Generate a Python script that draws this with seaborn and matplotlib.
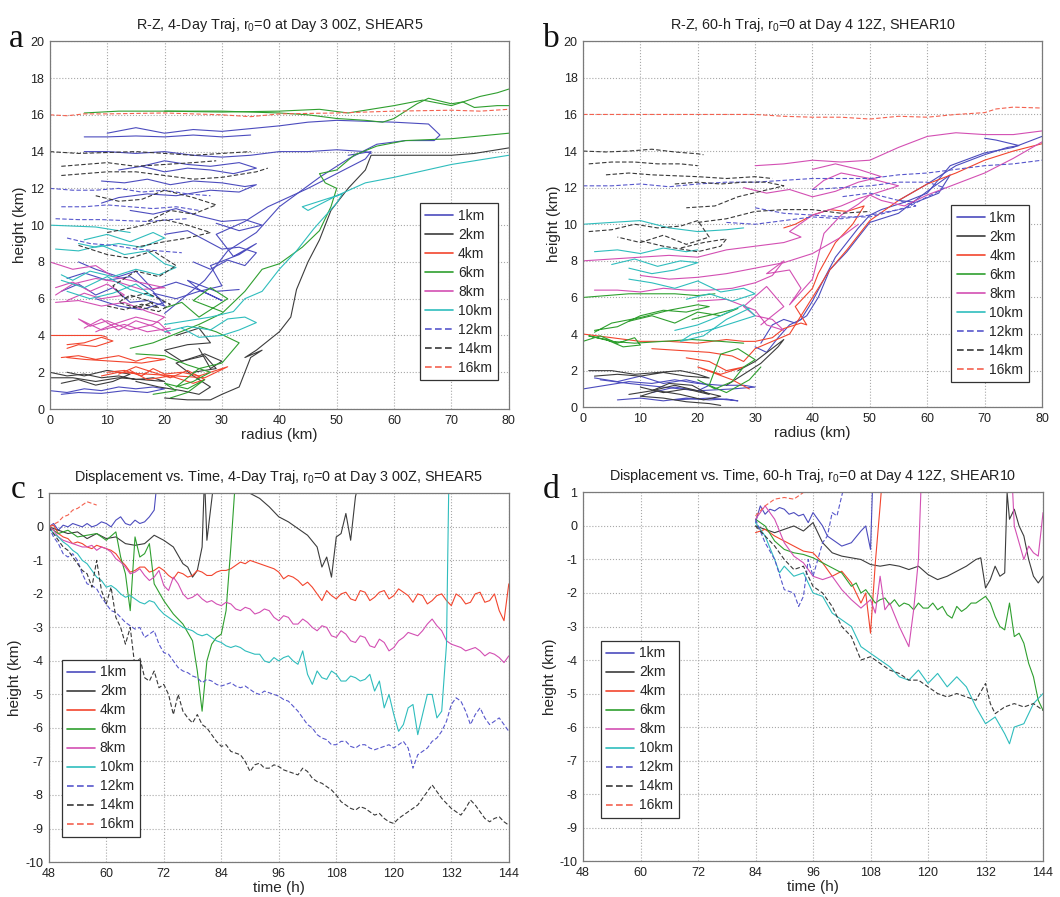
import numpy as np
import matplotlib
matplotlib.use("Agg")
import matplotlib.pyplot as plt
import seaborn as sns
import pandas as pd

# ---------------- global style ----------------
sns.set_theme(style="whitegrid")
sns.set_style("whitegrid", {
    "grid.linestyle": ":", "grid.color": "#b0b0b0",
    "axes.edgecolor": "#707070", "axes.linewidth": 0.8,
})
plt.rcParams['font.family'] = ['Liberation Sans', 'DejaVu Sans']
plt.rcParams['mathtext.fontset'] = 'custom'
plt.rcParams['mathtext.rm'] = 'Liberation Sans'
plt.rcParams['mathtext.it'] = 'Liberation Sans'
plt.rcParams['axes.unicode_minus'] = False

levels = ['1km', '2km', '4km', '6km', '8km', '10km', '12km', '14km', '16km']
colors = {'1km': '#4c4cbe', '2km': '#3c3c3c', '4km': '#f2452e', '6km': '#2f9f2f',
          '8km': '#d34fb3', '10km': '#2fbdbd', '12km': '#5757cc', '14km': '#383838',
          '16km': '#f4614f'}
dash_map = {k: '' for k in levels[:6]}
dash_map.update({'12km': (4, 2), '14km': (4, 2), '16km': (4, 2)})

# ---------------- panel a : R-Z, SHEAR5 (radius, height) ----------------
a_1km = [
    ([0, 3, 6, 9, 12, 15, 18, 20, 17, 13, 9, 5, 2], [1.0, 0.9, 1.1, 1.0, 1.2, 1.1, 1.2, 1.1, 0.9, 1.0, 0.85, 0.9, 0.8]),
    ([8, 12, 16, 20, 18, 22, 26, 30, 28, 33, 36, 32, 29, 34, 38, 45, 50, 55, 56, 52], [6.0, 5.6, 5.4, 5.8, 6.3, 6.0, 6.4, 6.7, 7.8, 8.4, 9.0, 8.3, 9.5, 10.2, 11.0, 12.0, 12.8, 13.6, 14.0, 13.8]),
    ([20, 27, 31, 36, 40, 47, 52, 57, 62, 67, 68, 66, 60, 50, 45, 40, 30, 25, 20, 15, 10], [5.2, 7.0, 8.6, 9.6, 11.0, 12.6, 13.6, 14.4, 14.6, 14.6, 14.9, 15.5, 15.6, 15.7, 15.6, 15.4, 15.1, 15.2, 15.0, 15.3, 15.0]),
    ([6, 10, 15, 20, 25, 30, 35, 40, 45, 50, 55, 56], [14.0, 14.0, 13.9, 14.0, 13.8, 13.7, 13.8, 14.0, 14.0, 14.1, 14.0, 13.9]),
    ([6, 10, 15, 20, 25, 30, 35], [14.8, 14.8, 14.85, 14.8, 14.9, 14.8, 14.9]),
    ([9, 13, 17, 21, 25, 30, 34, 36, 33, 28, 22, 17, 12, 9], [12.4, 12.3, 12.5, 12.2, 12.4, 12.3, 12.1, 12.2, 11.8, 11.9, 11.6, 11.7, 11.5, 11.2]),
    ([2, 5, 8, 11, 14, 17, 20, 18, 14, 10, 6, 3], [6.4, 6.8, 6.2, 6.6, 5.8, 5.9, 5.6, 6.4, 7.2, 7.0, 7.4, 7.1]),
    ([5, 8, 12, 15, 18, 22, 25, 28, 30, 26, 24, 29, 33], [8.0, 7.6, 7.2, 7.5, 6.5, 6.9, 6.6, 6.2, 5.9, 6.5, 7.0, 6.4, 6.5]),
    ([20, 24, 27, 30, 33, 36, 34, 31, 28, 25], [9.5, 9.7, 9.2, 8.7, 8.8, 8.5, 7.8, 8.1, 7.6, 8.0]),
    ([12, 16, 20, 24, 28, 32, 36, 33, 28, 24, 20, 16], [13.0, 13.2, 12.9, 13.1, 13.0, 12.8, 13.1, 13.4, 13.2, 13.3, 13.5, 13.2]),
    ([14, 18, 22, 26, 30, 34, 37, 33, 29], [10.8, 10.6, 10.9, 10.5, 10.2, 10.3, 10.0, 9.7, 10.1]),
]
a_2km = [
    ([0, 3, 6, 9, 12, 15, 18, 20, 16, 12, 8, 4, 0], [2.0, 1.8, 1.9, 1.7, 1.8, 1.6, 1.7, 1.5, 1.6, 1.7, 1.5, 1.7, 1.7]),
    ([15, 19, 23, 26, 28, 25, 22, 27, 30, 28, 26], [1.5, 1.2, 1.0, 0.8, 1.2, 1.8, 2.5, 3.0, 2.6, 2.2, 3.3]),
    ([20, 24, 28, 30, 33, 35, 37, 34, 36, 40, 42, 43, 45, 47, 49, 52, 55, 56, 60, 70, 74, 80], [0.6, 0.5, 0.5, 0.8, 1.2, 2.8, 3.2, 2.8, 3.2, 4.2, 5.0, 6.5, 8.0, 9.2, 10.8, 12.0, 13.0, 13.8, 13.8, 13.8, 13.9, 14.2]),
    ([22, 26, 28, 24, 20, 23, 27, 29, 25], [4.0, 4.4, 3.6, 3.5, 3.2, 2.6, 2.9, 2.2, 2.0]),
    ([2, 5, 8, 11, 14, 10, 6, 3], [1.4, 1.6, 1.3, 1.5, 1.9, 2.1, 1.8, 2.0]),
]
a_4km = [
    ([0, 5, 9, 10], [4.0, 4.0, 4.0, 3.9]),
    ([3, 6, 9, 11, 8, 5, 3], [3.5, 3.6, 3.9, 3.7, 3.4, 3.5, 3.3]),
    ([2, 5, 8, 12, 15, 17, 20, 16, 11, 6, 3], [2.8, 2.9, 2.7, 2.9, 2.6, 2.8, 2.7, 2.5, 2.6, 2.7, 2.8]),
    ([10, 13, 16, 18, 20, 23, 26, 28, 31, 27, 22, 17, 12, 9], [2.0, 2.1, 1.8, 2.2, 1.9, 2.0, 1.8, 2.0, 2.3, 1.7, 1.8, 1.9, 2.0, 1.8]),
    ([12, 15, 18, 21, 24, 27, 25, 21, 17, 14], [1.9, 2.3, 2.0, 1.7, 2.1, 1.6, 1.4, 1.8, 1.6, 2.1]),
]
a_6km = [
    ([6, 12, 20, 30, 40, 45, 50, 55, 58, 60, 64, 66, 70, 72, 74, 78, 80], [16.1, 16.2, 16.2, 16.2, 16.1, 16.0, 15.8, 15.7, 15.6, 15.8, 16.6, 16.9, 16.6, 16.7, 16.4, 16.5, 16.5]),
    ([20, 30, 40, 47, 52, 56, 60, 65, 70, 75, 78, 80], [16.2, 16.15, 16.2, 16.3, 16.1, 16.3, 16.5, 16.8, 16.5, 17.0, 17.2, 17.4]),
    ([14, 18, 22, 26, 30, 32, 34, 37, 40, 44, 47, 49, 50, 48, 47, 50, 53, 57, 62, 70, 80], [3.3, 3.6, 4.1, 4.6, 5.2, 5.8, 6.4, 7.6, 7.9, 8.8, 9.7, 11.0, 12.0, 12.3, 12.8, 13.0, 13.8, 14.3, 14.6, 14.7, 15.0]),
    ([15, 20, 24, 28, 25, 22, 26, 30, 33, 29, 26], [3.0, 2.9, 2.4, 2.0, 1.5, 1.2, 2.2, 2.5, 3.6, 4.2, 4.5]),
    ([18, 22, 20, 24, 27, 24, 21], [0.8, 1.0, 1.4, 1.1, 1.6, 0.9, 0.6]),
    ([20, 23, 26, 29, 31, 28, 25, 30], [5.5, 5.8, 5.0, 5.6, 6.0, 6.6, 5.9, 5.3]),
]
a_8km = [
    ([0, 4, 8, 11, 14, 17, 20, 16, 12, 8, 4, 1], [8.0, 7.6, 7.8, 7.2, 7.0, 6.8, 6.6, 6.5, 6.9, 7.1, 6.8, 6.2]),
    ([1, 5, 9, 13, 17, 20, 18, 14, 10, 7, 5, 9, 13, 17, 21], [5.8, 5.9, 5.6, 5.8, 5.3, 5.0, 4.6, 4.3, 4.8, 4.5, 4.9, 4.3, 4.6, 4.2, 4.4]),
    ([1, 4, 7, 10, 13, 9, 6, 3], [6.6, 6.9, 6.4, 6.8, 6.2, 6.0, 6.3, 5.9]),
    ([6, 9, 12, 15, 18, 21, 19, 15, 11, 8], [4.4, 4.9, 4.3, 4.8, 4.5, 4.1, 4.7, 5.0, 4.6, 4.2]),
]
a_10km = [
    ([0, 4, 8, 12, 14], [10.0, 9.95, 9.9, 9.7, 9.6]),
    ([1, 5, 9, 13, 17, 20, 22, 19, 15, 11, 7, 4, 2], [8.7, 8.6, 8.9, 8.4, 8.6, 7.9, 7.7, 7.3, 7.6, 7.2, 7.5, 7.0, 7.3]),
    ([6, 10, 14, 18, 20, 16, 12, 8, 5], [9.2, 9.5, 9.1, 9.6, 9.3, 8.8, 9.0, 8.8, 9.0]),
    ([20, 24, 28, 32, 34, 37, 40, 43, 46, 48, 50, 51, 48, 44, 45, 50, 55, 60, 70, 80], [4.6, 4.8, 5.0, 5.3, 6.0, 6.4, 7.6, 8.6, 9.8, 10.5, 11.2, 11.7, 11.4, 11.0, 10.8, 11.6, 12.3, 12.6, 13.3, 13.8]),
    ([20, 24, 28, 31, 34, 36, 33, 30, 26, 23], [4.2, 4.5, 4.3, 4.9, 5.0, 4.7, 4.3, 4.0, 3.9, 4.4]),
    ([2, 6, 10, 14, 18, 15, 11, 7, 3], [7.0, 6.6, 7.2, 6.5, 6.1, 6.8, 6.3, 6.0, 6.4]),
]
a_12km = [
    ([0, 4, 8, 12, 16, 20, 24, 28], [12.0, 11.9, 11.9, 12.0, 11.8, 11.9, 11.7, 11.6]),
    ([2, 6, 10, 14, 18, 22, 26], [11.0, 11.0, 11.1, 11.0, 10.9, 11.0, 10.8]),
    ([1, 5, 9, 13, 17, 21, 24], [10.35, 10.3, 10.3, 10.25, 10.2, 10.3, 10.35]),
    ([3, 7, 11, 15, 19, 23], [9.3, 9.0, 8.9, 8.7, 8.6, 8.5]),
]
a_14km = [
    ([0, 5, 10, 15, 20, 25, 30, 35], [14.0, 13.9, 13.95, 14.0, 13.9, 13.8, 13.9, 14.0]),
    ([2, 6, 10, 15, 20, 25, 29], [13.2, 13.3, 13.4, 13.2, 13.3, 13.4, 13.5]),
    ([2, 6, 10, 15, 20, 25, 30, 36, 38], [12.7, 12.8, 12.9, 12.9, 12.7, 12.5, 12.6, 12.9, 13.1]),
    ([8, 12, 16, 20, 25, 29, 25, 21, 17], [11.6, 11.3, 11.4, 11.9, 11.5, 11.1, 10.6, 10.8, 10.2]),
    ([10, 15, 20, 24, 28, 24, 20, 15], [9.6, 9.9, 10.3, 10.0, 9.6, 9.3, 9.1, 8.8]),
    ([5, 10, 14, 18, 22, 19, 15, 11, 13, 17, 21, 19, 15], [8.9, 8.4, 8.2, 8.6, 7.8, 7.2, 7.5, 6.7, 6.0, 6.3, 5.7, 5.3, 5.6]),
    ([10, 13, 16, 19, 17, 14, 12, 15, 18], [5.6, 5.4, 5.7, 5.5, 5.9, 6.2, 5.8, 5.5, 5.8]),
]
a_16km = [
    ([0, 3, 6, 10, 20, 30, 35, 40, 50, 60, 70, 75, 80], [16.0, 15.95, 16.05, 16.05, 16.1, 16.0, 15.9, 16.05, 16.1, 16.2, 16.25, 16.2, 16.3]),
]

# ---------------- panel b : R-Z, SHEAR10 ----------------
b_1km = [
    ([0, 4, 8, 12, 16, 20, 24, 28, 30, 26, 20, 14, 8, 3], [1.0, 1.2, 1.4, 1.3, 1.5, 1.3, 1.2, 1.2, 1.1, 1.0, 0.9, 1.1, 1.3, 1.5]),
    ([6, 10, 14, 18, 22, 25, 27, 22, 16], [0.4, 0.5, 0.35, 0.5, 0.4, 0.45, 0.35, 0.5, 0.4]),
    ([30, 32, 34, 36, 38, 40, 42, 44, 46, 48, 50, 52, 56, 60, 64, 70, 75, 80], [3.3, 3.0, 3.8, 4.5, 4.8, 5.8, 7.0, 8.2, 9.0, 9.8, 10.5, 10.8, 11.2, 11.7, 13.2, 13.9, 14.2, 14.8]),
    ([31, 33, 35, 37, 39, 41, 43, 46, 50, 55, 60, 64, 62, 58, 55, 60, 65, 70, 74, 76, 72, 70], [3.5, 4.5, 4.8, 4.6, 5.0, 6.0, 7.5, 8.5, 10.1, 10.6, 11.8, 12.7, 11.7, 11.2, 11.3, 12.2, 13.2, 13.8, 14.2, 14.3, 14.6, 14.7]),
    ([2, 6, 10, 14, 18, 22, 20, 16, 12], [1.6, 1.4, 1.7, 1.3, 1.5, 1.2, 0.9, 1.1, 0.8]),
]
b_2km = [
    ([1, 5, 9, 13, 17, 20, 22, 18, 14, 10, 6, 2], [2.0, 2.0, 1.8, 1.9, 2.0, 1.8, 1.6, 1.7, 1.9, 1.7, 1.8, 1.7]),
    ([8, 12, 16, 20, 24, 21, 17, 13, 10, 14, 18, 22, 24], [0.7, 0.9, 1.2, 0.9, 0.6, 0.4, 0.7, 0.9, 0.6, 0.5, 0.3, 0.2, 0.1]),
    ([25, 28, 31, 34, 35, 30, 27], [1.2, 1.8, 2.4, 3.3, 3.7, 2.5, 2.0]),
    ([10, 14, 18, 22, 19, 15, 12], [1.1, 0.8, 1.0, 0.7, 1.2, 1.3, 0.9]),
]
b_4km = [
    ([0, 5, 10, 15, 20, 25, 28, 30, 33, 35, 38, 39, 37, 40, 41, 44, 47, 49, 46, 43, 40, 37, 35], [4.0, 3.8, 3.6, 3.6, 3.5, 3.7, 3.6, 3.6, 3.8, 4.3, 4.6, 4.5, 5.5, 6.5, 7.3, 9.0, 10.0, 11.0, 10.7, 10.8, 10.5, 10.0, 9.8]),
    ([12, 17, 22, 26, 28, 30, 33, 36, 40, 43, 46, 50, 55, 60, 65, 70, 75, 80], [3.2, 3.1, 3.0, 2.8, 2.5, 3.2, 3.6, 4.0, 6.0, 7.5, 8.6, 10.2, 11.3, 12.2, 12.8, 13.5, 14.0, 14.4]),
    ([18, 22, 25, 28, 24, 20, 26, 29], [2.7, 2.5, 2.0, 2.2, 1.8, 2.2, 1.5, 1.0]),
]
b_6km = [
    ([0, 4, 8, 12, 16, 20, 23], [6.0, 6.1, 6.2, 6.2, 6.2, 6.1, 6.2]),
    ([2, 6, 10, 14, 18, 22, 20, 15, 10, 5, 2], [4.2, 4.4, 5.0, 5.3, 5.2, 5.5, 5.6, 5.3, 4.9, 4.6, 4.1]),
    ([0, 3, 6, 9, 10, 7, 4, 1, 5, 9, 14, 19, 24, 28], [3.6, 3.9, 3.5, 3.8, 3.4, 3.3, 3.7, 3.9, 3.6, 3.5, 3.6, 3.7, 3.6, 3.5]),
    ([20, 23, 26, 28, 30, 27, 24, 22, 25, 29, 31], [1.5, 1.0, 1.4, 2.2, 2.6, 3.2, 2.9, 1.2, 0.8, 1.5, 2.2]),
    ([8, 12, 16, 20, 24, 27, 23, 19], [4.7, 5.0, 4.6, 5.2, 5.0, 5.4, 5.1, 4.8]),
]
b_8km = [
    ([0, 5, 10, 15, 20, 25, 30, 35, 38, 36, 40, 45, 48, 52, 55, 50, 45, 42, 40], [8.0, 8.1, 8.2, 8.3, 8.2, 8.6, 8.8, 9.0, 9.3, 9.6, 10.5, 11.0, 11.4, 11.8, 12.1, 12.5, 12.8, 12.4, 11.9]),
    ([30, 35, 40, 45, 50, 55, 60, 65, 70, 75, 80], [13.2, 13.3, 13.5, 13.4, 13.5, 14.2, 14.8, 15.0, 14.9, 14.9, 15.1]),
    ([2, 6, 10, 14, 18, 22, 26, 30, 33, 35, 32, 36, 38, 36, 40, 42, 45, 48, 50, 52, 56, 60, 65, 70, 75, 80], [6.4, 6.4, 6.3, 6.5, 6.4, 6.4, 6.5, 6.8, 7.2, 8.0, 7.3, 7.5, 6.5, 5.6, 7.0, 9.5, 10.5, 11.1, 11.6, 11.3, 11.0, 11.6, 12.2, 12.8, 13.6, 14.5]),
    ([20, 25, 30, 32, 35, 33, 30, 28, 32, 35, 31], [5.8, 5.9, 5.3, 4.5, 4.2, 4.8, 5.0, 5.5, 6.6, 5.5, 4.5]),
    ([10, 15, 20, 25, 30, 35, 40, 45, 48], [7.2, 7.0, 7.1, 7.3, 7.6, 7.9, 8.4, 9.3, 10.0]),
    ([28, 32, 36, 40, 44, 48, 52, 48, 44, 40], [12.0, 11.7, 11.9, 11.5, 11.8, 12.3, 12.6, 13.0, 13.3, 13.0]),
]
b_10km = [
    ([0, 5, 10, 15, 20, 25, 28], [10.0, 10.1, 10.2, 9.8, 9.6, 9.7, 9.8]),
    ([2, 6, 10, 14, 18, 20], [8.5, 8.6, 8.4, 8.7, 8.5, 8.6]),
    ([5, 9, 13, 17, 20, 16, 12, 8], [7.8, 8.1, 7.7, 8.0, 7.9, 7.5, 7.3, 7.6]),
    ([8, 12, 16, 20, 24, 28, 30, 26, 22, 18], [7.0, 6.8, 6.5, 6.9, 6.3, 6.5, 6.2, 5.8, 6.2, 5.9]),
    ([16, 20, 24, 28, 30, 27, 23, 19, 17, 21, 25, 29], [4.2, 4.5, 5.0, 5.6, 5.0, 4.7, 4.3, 4.0, 3.6, 3.9, 4.8, 5.4]),
]
b_12km = [
    ([0, 5, 10, 15, 20, 25, 30, 35, 40, 45, 50, 55, 60, 65, 70, 75, 80], [12.1, 12.1, 12.2, 12.05, 12.2, 12.3, 12.3, 12.4, 12.5, 12.5, 12.5, 12.7, 12.8, 13.0, 13.2, 13.3, 13.5]),
    ([25, 30, 35, 40, 45, 50, 55, 57, 60, 62, 63, 60, 55, 50, 45, 40], [10.1, 10.0, 10.2, 10.4, 10.3, 10.5, 10.8, 11.0, 11.5, 11.8, 12.0, 12.3, 12.3, 12.1, 12.0, 11.9]),
    ([30, 35, 40, 45, 50, 55, 58, 55, 50, 45], [10.9, 10.6, 10.5, 10.4, 10.4, 10.8, 11.0, 11.3, 11.7, 11.5]),
]
b_14km = [
    ([0, 4, 8, 12, 16, 20, 21], [14.0, 13.95, 14.0, 14.1, 13.95, 13.85, 13.8]),
    ([1, 5, 9, 13, 17, 20], [13.3, 13.4, 13.4, 13.3, 13.3, 13.2]),
    ([4, 8, 12, 16, 20, 25, 30, 33], [12.7, 12.8, 12.7, 12.65, 12.6, 12.5, 12.6, 12.5]),
    ([16, 20, 24, 28, 32, 35, 31, 27, 23, 18], [12.2, 12.3, 12.2, 12.3, 12.3, 12.1, 11.8, 11.5, 11.0, 10.9]),
    ([1, 5, 9, 13, 17, 20, 22, 18, 14, 10, 6], [9.6, 9.7, 10.0, 9.8, 9.9, 10.2, 9.3, 8.9, 9.4, 9.0, 9.3]),
    ([10, 14, 18, 20, 24, 25, 21, 17], [9.1, 8.8, 8.6, 8.5, 8.8, 9.2, 9.0, 8.7]),
    ([20, 25, 30, 35, 40, 45, 50], [10.1, 10.3, 10.7, 10.8, 10.8, 10.6, 10.7]),
]
b_16km = [
    ([0, 10, 20, 30, 35, 40, 45, 50, 55, 60, 65, 70, 72, 75, 80], [16.0, 16.0, 16.0, 16.0, 15.9, 15.85, 15.85, 15.75, 15.9, 15.85, 16.0, 16.1, 16.3, 16.4, 16.35]),
]

# ---------------- panel c : displacement vs time, SHEAR5 ----------------
c_hours = [48, 49, 50, 51, 52, 53, 54, 55, 56, 57, 58, 59, 60, 61, 62, 63, 64, 65, 66, 67, 68, 69, 70, 71, 72,
           73, 74, 75, 76, 77, 78, 79, 80, 81, 82, 83, 84, 85, 86, 87, 88, 89, 90, 91, 92, 93, 94, 95, 96,
           97, 98, 99, 100, 101, 102, 103, 104, 105, 106, 107, 108, 109, 110, 111, 112, 113, 114, 115, 116,
           117, 118, 119, 120, 121, 122, 123, 124, 125, 126, 127, 128, 129, 130, 131, 132, 133, 134, 135,
           136, 137, 138, 139, 140, 141, 142, 143, 144]
c_1km_t = [48, 49, 50, 51, 52, 53, 54, 55, 56, 57, 58, 59, 60, 61, 62, 63, 64, 65, 66, 67, 68, 69, 70, 70.5, 71]
c_1km_y = [0.0, 0.1, -0.1, 0.05, 0.0, 0.1, 0.05, 0.0, 0.1, 0.0, 0.05, 0.15, 0.1, 0.0, 0.2, 0.3, 0.1, 0.05, 0.2, 0.1, 0.15, 0.3, 0.5, 1.2, 2.0]
c_2km_t = [48, 50, 52, 54, 56, 58, 60, 62, 64, 66, 68, 70, 72, 74, 76, 77, 78, 79, 80, 80.5, 81, 82, 83, 84, 86, 88,
           90, 92, 94, 96, 98, 100, 102, 104, 105, 106, 107, 108, 109, 110, 111, 112, 113]
c_2km_y = [0.0, -0.1, -0.2, -0.15, -0.35, -0.2, -0.35, -0.3, -0.5, -0.55, -0.5, -0.25, -0.4, -0.6, -1.1, -1.2, -1.5,
           -1.3, -0.6, 1.5, -0.4, 0.8, 2.0, 3.0, 3.0, 3.0, 1.0, 0.85, 0.6, 0.3, 0.15, -0.05, -0.25, -0.6, -1.2, -0.9,
           -1.5, -0.3, -0.2, 0.4, -0.4, 0.9, 1.5]
c_4km_y = [0.0, 0.05, -0.2, -0.3, -0.35, -0.5, -0.45, -0.5, -0.6, -0.65,
           -0.55, -0.6, -0.65, -0.7, -0.8, -1.0, -1.15, -1.35, -1.3, -1.2,
           -1.2, -1.35, -1.3, -1.2, -1.3, -1.45, -1.55, -1.35, -1.4, -1.5,
           -1.45, -1.3, -1.35, -1.45, -1.45, -1.35, -1.3, -1.3, -1.25, -1.15,
           -1.05, -1.1, -1.0, -1.05, -1.1, -1.15, -1.2, -1.25, -1.35, -1.55,
           -1.45, -1.5, -1.6, -1.75, -1.65, -1.8, -2.0, -2.2, -1.9, -2.05,
           -2.15, -2.0, -1.95, -2.15, -2.2, -1.9, -1.95, -2.2, -2.1, -1.95,
           -1.9, -2.15, -2.05, -1.85, -1.95, -2.05, -2.25, -2.0, -2.05, -2.3,
           -2.2, -2.05, -2.0, -2.2, -2.35, -2.0, -2.1, -2.3, -2.25, -2.0,
           -1.95, -2.25, -2.2, -2.0, -2.5, -2.8, -1.7]
c_6km_t = [48, 50, 52, 54, 56, 58, 60, 62, 63, 64, 65, 66, 67, 68, 69, 70, 72, 74, 76, 78, 79, 80, 81, 82, 83, 84, 85, 86, 87]
c_6km_y = [0.0, -0.2, -0.1, -0.3, -0.25, -0.2, -0.4, -0.15, -0.9, -1.4, -2.5, -0.3, -0.9, -0.8, -0.5, -1.7, -2.2, -2.6,
           -2.9, -3.4, -4.3, -5.5, -4.0, -3.5, -3.3, -3.2, -2.5, -0.6, 1.5]
c_8km_y = [0.0, -0.1, -0.3, -0.4, -0.45, -0.5, -0.55, -0.6, -0.6, -0.55,
           -0.7, -0.6, -0.65, -0.75, -0.95, -1.05, -1.2, -1.4, -1.35, -1.25,
           -1.45, -1.6, -1.5, -1.3, -1.75, -1.9, -1.5, -1.7, -2.0, -2.15,
           -2.1, -2.0, -2.15, -2.25, -2.2, -2.3, -2.35, -2.25, -2.3, -2.45,
           -2.5, -2.4, -2.45, -2.6, -2.55, -2.45, -2.5, -2.7, -2.8, -2.65,
           -2.7, -2.9, -2.9, -2.75, -2.85, -3.0, -3.1, -2.95, -3.0, -3.25,
           -3.3, -3.1, -3.2, -3.4, -3.45, -3.25, -3.3, -3.55, -3.6, -3.35,
           -3.45, -3.7, -3.6, -3.4, -3.3, -3.15, -3.2, -3.25, -3.1, -2.9,
           -2.75, -2.95, -3.1, -3.4, -3.5, -3.55, -3.6, -3.7, -3.65, -3.6,
           -3.7, -3.85, -3.75, -3.8, -3.9, -4.05, -3.85]
c_10km_t = c_hours[:83] + [131, 131.5]
c_10km_y = [0.0, -0.2, -0.3, -0.45, -0.55, -0.7, -0.8, -1.0, -1.1, -1.3,
            -1.5, -1.6, -1.8, -1.75, -1.85, -2.0, -2.1, -2.05, -2.15, -2.25,
            -2.3, -2.2, -2.25, -2.45, -2.6, -2.7, -2.8, -2.9, -3.0, -3.05,
            -3.1, -3.2, -3.25, -3.2, -3.3, -3.4, -3.45, -3.55, -3.6, -3.55,
            -3.6, -3.7, -3.75, -3.8, -3.8, -4.0, -4.05, -3.9, -4.0, -3.9,
            -3.85, -4.0, -4.1, -3.7, -4.4, -4.7, -4.3, -4.5, -4.55, -4.3,
            -4.4, -4.6, -4.6, -4.45, -4.5, -4.6, -4.55, -4.4, -4.9, -4.6,
            -5.4, -5.0, -5.6, -6.1, -5.9, -5.4, -5.3, -6.2, -5.6, -5.0,
            -5.0, -5.7, -5.5, -3.5, 1.5]
c_12km_y = [0.0, -0.3, -0.5, -0.8, -0.9, -0.8, -1.0, -1.4, -1.7, -1.75,
            -1.85, -2.1, -2.3, -2.5, -2.55, -2.7, -2.85, -2.95, -3.05, -3.0,
            -3.3, -3.2, -3.1, -3.5, -3.75, -3.8, -4.0, -4.2, -4.3, -4.35,
            -4.45, -4.5, -4.65, -4.55, -4.6, -4.7, -4.75, -4.7, -4.65, -4.75,
            -4.8, -4.75, -4.85, -4.95, -5.0, -4.9, -4.95, -5.0, -5.05, -5.15,
            -5.2, -5.35, -5.5, -5.7, -5.9, -6.0, -6.2, -6.3, -6.35, -6.5,
            -6.5, -6.4, -6.4, -6.55, -6.6, -6.5, -6.5, -6.6, -6.65, -6.6,
            -6.55, -6.5, -6.6, -6.5, -6.4, -6.6, -7.2, -6.8, -6.7, -6.6,
            -6.4, -6.3, -6.1, -5.8, -5.3, -5.1, -5.2, -5.5, -5.9, -5.6,
            -5.4, -5.7, -5.9, -5.8, -5.7, -5.9, -6.1]
c_14km_y = [0.0, -0.2, -0.4, -0.6, -0.7, -0.9, -1.1, -1.3, -1.4, -1.8,
            -1.0, -1.9, -2.3, -1.8, -2.7, -3.0, -3.5, -3.0, -4.2, -3.9,
            -4.5, -4.6, -4.3, -4.8, -4.7, -5.0, -5.6, -5.0, -5.5, -5.7,
            -5.85, -5.6, -5.9, -6.0, -6.2, -6.4, -6.55, -6.5, -6.7, -6.75,
            -6.8, -7.0, -7.3, -7.1, -7.05, -7.2, -7.2, -7.1, -7.15, -7.25,
            -7.3, -7.35, -7.4, -7.2, -7.3, -7.5, -7.6, -7.65, -7.75, -7.85,
            -8.0, -8.2, -8.3, -8.4, -8.45, -8.35, -8.4, -8.5, -8.6, -8.55,
            -8.7, -8.8, -8.85, -8.7, -8.6, -8.5, -8.4, -8.3, -8.1, -7.9,
            -7.7, -7.9, -8.1, -8.25, -8.4, -8.5, -8.6, -8.4, -8.15, -8.3,
            -8.5, -8.7, -8.8, -8.7, -8.65, -8.8, -8.9]
c_16km_t = [48, 50, 51, 52, 53, 54, 55, 56, 57, 58]
c_16km_y = [0.0, 0.15, 0.3, 0.35, 0.5, 0.55, 0.65, 0.75, 0.7, 0.65]

# ---------------- panel d : displacement vs time, SHEAR10 ----------------
d_1km_t = [84, 85, 86, 87, 88, 89, 90, 91, 92, 93, 94, 95, 96, 97, 98, 99, 100, 102, 104, 106, 107, 108, 108.5]
d_1km_y = [0.1, 0.6, 0.35, 0.5, 0.45, 0.55, 0.5, 0.35, 0.4, 0.3, 0.35, 0.1, 0.4, 0.2, 0.0, -0.3, -0.4, -0.6, -0.5,
           -0.15, 0.0, -0.7, 1.5]
d_2km_t = [84, 86, 88, 90, 92, 94, 96, 98, 100, 102, 104, 106, 108, 110, 112, 114, 116, 118, 120, 122, 124, 126, 128,
           130, 131, 132, 133, 134, 135, 136, 136.5, 137, 138, 139, 140, 141, 142, 143, 144]
d_2km_y = [0.0, -0.1, -0.2, -0.1, 0.0, -0.15, 0.1, -0.5, -0.8, -0.9, -0.95, -1.0, -1.15, -1.2, -1.15, -1.2, -1.3, -1.2,
           -1.45, -1.6, -1.5, -1.35, -1.2, -1.0, -0.95, -1.85, -1.6, -1.2, -1.5, -1.4, 1.0, 0.2, 0.5, 0.0, -0.3, -1.0,
           -1.5, -1.7, -1.5]
d_4km_t = [84, 86, 88, 90, 92, 94, 96, 98, 100, 102, 104, 106, 107, 108, 109, 110, 110.5]
d_4km_y = [-0.2, -0.1, -0.3, -0.45, -0.6, -0.75, -0.8, -1.1, -1.5, -1.35, -1.7, -2.3, -2.0, -3.2, -1.1, 0.6, 1.5]
d_6km_t = [84, 86, 88, 90, 92, 94, 96, 98, 100, 102, 104, 105, 106, 107, 108, 109, 110, 111, 112, 113, 114, 115, 116,
           117, 118, 119, 120, 121, 122, 123, 124, 125, 126, 127, 128, 129, 130, 131, 132, 133, 134, 135, 136, 137,
           138, 139, 140, 141, 142, 143, 144]
d_6km_y = [0.2, 0.0, -0.45, -0.7, -0.8, -0.85, -0.95, -1.1, -1.25, -1.4, -1.8,
           -1.7, -2.0, -1.9, -2.1, -2.3, -2.2, -2.15, -2.35, -2.2, -2.4,
           -2.3, -2.35, -2.5, -2.3, -2.45, -2.45, -2.3, -2.5, -2.4, -2.65,
           -2.75, -2.4, -2.55, -2.45, -2.3, -2.3, -2.2, -2.1, -2.3, -2.7,
           -3.0, -3.1, -2.3, -3.3, -3.2, -3.5, -4.1, -4.5, -5.2, -5.5]
d_8km_t = [84, 86, 88, 90, 92, 94, 96, 98, 100, 102, 104, 106, 108, 109, 110, 111, 112, 114, 116, 117, 118, 119, 137,
           138, 139, 140, 141, 142, 143, 144]
d_8km_y = [0.2, 0.6, 0.2, -0.5, -0.9, -1.1, -1.5, -1.6, -1.5, -1.9, -2.2, -2.45, -2.2, -2.6, -1.5, -2.5, -2.3, -3.0,
           -3.6, -2.5, -1.0, 3.0, 3.0, 0.0, -0.5, -1.0, -0.6, -0.8, -0.9, 0.4]
d_10km_t = [84, 86, 88, 89, 90, 92, 94, 96, 98, 100, 102, 104, 106, 108, 110, 112, 114, 116, 118, 120, 122, 124, 126,
            128, 130, 132, 134, 136, 137, 138, 140, 142, 144]
d_10km_y = [0.1, -0.3, -1.0, -1.4, -1.2, -1.5, -1.4, -2.0, -2.1, -2.6, -2.8, -3.0, -3.6, -3.8, -4.0, -4.2, -4.5, -4.6,
            -4.3, -4.7, -4.4, -4.8, -4.5, -4.8, -5.4, -5.9, -5.7, -6.2, -6.5, -6.0, -5.9, -5.3, -5.0]
d_12km_t = [84, 86, 88, 90, 92, 93, 94, 95, 96, 98, 99, 100, 101, 102, 103]
d_12km_y = [0.2, -0.5, -1.0, -1.9, -2.0, -2.4, -2.1, -1.0, -1.5, -0.5, -0.3, 0.4, 0.3, 0.9, 1.5]
d_14km_t = [84, 86, 88, 90, 92, 94, 96, 98, 100, 102, 104, 106, 108, 110, 112, 114, 116, 118, 120, 122, 124, 126, 128,
            130, 132, 133, 134, 136, 138, 140, 142, 144]
d_14km_y = [0.0, -0.3, -0.6, -1.0, -1.3, -1.2, -1.8, -2.0, -2.4, -3.0, -3.3, -4.0, -3.9, -4.1, -4.3, -4.4, -4.6, -4.6,
            -4.8, -5.0, -5.1, -5.0, -5.1, -5.2, -4.7, -5.3, -5.6, -5.4, -5.3, -5.4, -5.3, -5.5]
d_16km_t = [84, 86, 88, 90, 92, 94, 95]
d_16km_y = [0.3, 0.6, 0.8, 0.85, 0.8, 1.0, 1.2]


# ---------------- helpers ----------------
def rz_frame(groups):
    rows = []
    for lev, trajs in zip(levels, groups):
        for k, (r, z) in enumerate(trajs):
            for ri, zi in zip(r, z):
                rows.append((lev, f'{lev}-{k}', ri, zi))
    return pd.DataFrame(rows, columns=['level', 'traj', 'r', 'z'])


def ts_frame(series):
    rows = []
    for lev, (t, y) in zip(levels, series):
        for ti, yi in zip(t, y):
            rows.append((lev, ti, yi))
    return pd.DataFrame(rows, columns=['level', 't', 'y'])


def style_axes(ax):
    ax.grid(True, linestyle=':', color='#a8a8a8', linewidth=0.8)
    ax.tick_params(axis='both', direction='in', length=3, width=0.6, color='#606060',
                   labelsize=9, pad=4, labelcolor='#222222')
    for s in ax.spines.values():
        s.set_visible(True)
        s.set_color('#7a7a7a')
        s.set_linewidth(0.9)


def place_legend(ax, loc, anchor):
    sns.move_legend(ax, loc, bbox_to_anchor=anchor, title=None, frameon=True, fancybox=False,
                    framealpha=1, edgecolor='#333333', fontsize=10, handlelength=2.0,
                    labelspacing=0.36, borderpad=0.4, handletextpad=0.35, borderaxespad=0)
    ax.get_legend().get_frame().set_linewidth(0.9)
    for h in ax.get_legend().get_lines():
        h.set_linewidth(1.2)


fig = plt.figure(figsize=(10.6, 8.97), dpi=100)
ax_a = fig.add_axes([0.047, 0.544, 0.433, 0.410])
ax_b = fig.add_axes([0.550, 0.546, 0.433, 0.408])
ax_c = fig.add_axes([0.046, 0.039, 0.434, 0.411])
ax_d = fig.add_axes([0.550, 0.040, 0.434, 0.411])

# ---------------- R-Z panels ----------------
rz_panels = [
    (ax_a, [a_1km, a_2km, a_4km, a_6km, a_8km, a_10km, a_12km, a_14km, a_16km],
     'R-Z, 4-Day Traj, r$_0$=0 at Day 3 00Z, SHEAR5', (0.976, 0.078)),
    (ax_b, [b_1km, b_2km, b_4km, b_6km, b_8km, b_10km, b_12km, b_14km, b_16km],
     'R-Z, 60-h Traj, r$_0$=0 at Day 4 12Z, SHEAR10', (0.972, 0.068)),
]
for ax, groups, title, anchor in rz_panels:
    df = rz_frame(groups)
    sns.lineplot(data=df, x='r', y='z', hue='level', style='level', units='traj', estimator=None,
                 sort=False, hue_order=levels, style_order=levels, palette=colors, dashes=dash_map,
                 linewidth=0.8, ax=ax)
    ax.set_xlim(0, 80)
    ax.set_ylim(0, 20)
    ax.set_xticks(range(0, 81, 10))
    ax.set_yticks(range(0, 21, 2))
    ax.set_xlabel('radius (km)', fontsize=11, labelpad=1)
    ax.set_ylabel('height (km)', fontsize=11, labelpad=2)
    ax.set_title(title, fontsize=10.4, pad=9, color='#222222')
    style_axes(ax)
    place_legend(ax, 'lower right', anchor)

# ---------------- displacement panels ----------------
c_series = [(c_1km_t, c_1km_y), (c_2km_t, c_2km_y), (c_hours, c_4km_y), (c_6km_t, c_6km_y),
            (c_hours, c_8km_y), (c_10km_t, c_10km_y), (c_hours, c_12km_y), (c_hours, c_14km_y),
            (c_16km_t, c_16km_y)]
d_series = [(d_1km_t, d_1km_y), (d_2km_t, d_2km_y), (d_4km_t, d_4km_y), (d_6km_t, d_6km_y),
            (d_8km_t, d_8km_y), (d_10km_t, d_10km_y), (d_12km_t, d_12km_y), (d_14km_t, d_14km_y),
            (d_16km_t, d_16km_y)]
ts_panels = [
    (ax_c, c_series, 'Displacement vs. Time, 4-Day Traj, r$_0$=0 at Day 3 00Z, SHEAR5', (0.028, 0.068)),
    (ax_d, d_series, 'Displacement vs. Time, 60-h Traj, r$_0$=0 at Day 4 12Z, SHEAR10', (0.039, 0.117)),
]
for ax, series, title, anchor in ts_panels:
    df = ts_frame(series)
    sns.lineplot(data=df, x='t', y='y', hue='level', style='level', estimator=None, sort=False,
                 hue_order=levels, style_order=levels, palette=colors, dashes=dash_map,
                 linewidth=0.8, ax=ax)
    ax.set_xlim(48, 144)
    ax.set_ylim(-10, 1)
    ax.set_xticks(range(48, 145, 12))
    ax.set_yticks(range(-10, 2, 1))
    ax.set_xlabel('time (h)', fontsize=11, labelpad=1)
    ax.set_ylabel('height (km)', fontsize=11, labelpad=2)
    ax.set_title(title, fontsize=10.4, pad=9, color='#222222')
    style_axes(ax)
    place_legend(ax, 'lower left', anchor)

# panel letters
for x, y, s in [(0.008, 0.948, 'a'), (0.512, 0.948, 'b'), (0.010, 0.445, 'c'), (0.512, 0.445, 'd')]:
    fig.text(x, y, s, fontsize=24, family=['Liberation Serif', 'DejaVu Serif'], color='#111111')

fig.savefig('out.png', dpi=100)
